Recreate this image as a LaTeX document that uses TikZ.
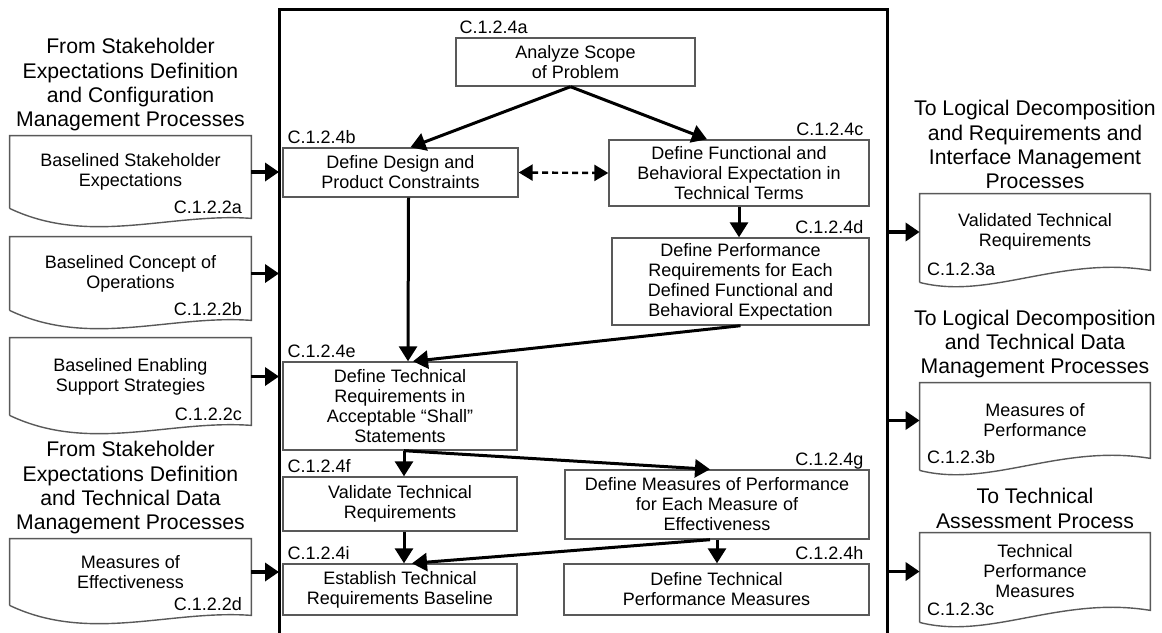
\documentclass[tikz,border=0pt]{standalone}
\usepackage{fontspec}
\setmainfont{Liberation Sans}
\usetikzlibrary{positioning,calc,arrows.meta}

% document outlines (wavy bottom)
\newcommand{\docIn}[1]{%
  \draw[docline] (#1.south west) -- (#1.north west) -- (#1.north east)
    -- ($(#1.south east)+(0,10)$) .. controls +(-81,-6) and +(80,38) .. (#1.south west);}
\newcommand{\docOut}[1]{%
  \draw[docline] ($(#1.south west)+(0,12)$) -- (#1.north west) -- (#1.north east)
    -- (#1.south east) .. controls +(-90,-15) and +(70,18) .. ($(#1.south west)+(0,12)$);}

\begin{document}
\begin{tikzpicture}[x=0.5pt, y=-0.5pt,
    proc/.style={rectangle, draw=black!65, line width=0.7pt, fill=white, align=center, inner sep=1pt, font=\fontsize{9}{10}\selectfont},
    doc/.style={rectangle, inner sep=1pt, align=center, minimum width=120.5pt, font=\fontsize{9}{10}\selectfont},
    code/.style={inner sep=0pt, font=\fontsize{9}{10}\selectfont},
    head/.style={align=center, inner sep=1pt, font=\fontsize{10.6}{12.2}\selectfont},
    docline/.style={draw=black!65, line width=0.7pt},
    arrow/.style={-{Triangle[length=7.5pt,width=9pt]}, line width=1.5pt},
    dasharrow/.style={{Triangle[length=7pt,width=8pt]}-{Triangle[length=7pt,width=8pt]}, line width=1.2pt, dash pattern=on 3pt off 2pt},
    ioarrow/.style={-{Triangle[length=7pt,width=9pt]}, line width=1.8pt},
    frame/.style={line width=1.5pt}
]
\useasboundingbox (0,0) rectangle (1162,632);

% Frame
\coordinate (fl) at (279,0);
\coordinate (fr) at (887,0);
\draw[frame] (279,640) -- (279,9) -- (887,9) -- (887,640);

% Process boxes
\node[proc, minimum width=119.5pt, minimum height=24pt] (a) at (575.5,62) {Analyze Scope\\of Problem};
\node[proc, minimum width=117.5pt, minimum height=24.5pt] (b) at (400.5,172.5) {Define Design and\\Product Constraints};
\node[proc, minimum width=130pt, minimum height=33pt] (c) at (739,173) {Define Functional and\\Behavioral Expectation in\\Technical Terms};
\node[proc, minimum width=128.5pt, minimum height=43.5pt] (d) at (740.5,281.5) {Define Performance\\Requirements for Each\\Defined Functional and\\Behavioral Expectation};
\node[proc, minimum width=117pt, minimum height=44pt] (e) at (400,406) {Define Technical\\Requirements in\\Acceptable “Shall”\\Statements};
\node[proc, minimum width=117pt, minimum height=27pt] (f) at (400,504) {Validate Technical\\Requirements};
\node[proc, minimum width=152pt, minimum height=34.5pt] (g) at (717,504.5) {Define Measures of Performance\\for Each Measure of\\Effectiveness};
\node[proc, minimum width=152.5pt, minimum height=25.5pt] (h) at (716.5,589.5) {Define Technical\\Performance Measures};
\node[proc, minimum width=117pt, minimum height=25.5pt] (i) at (400,589.5) {Establish Technical\\Requirements Baseline};

% Process labels
\node[code, anchor=base west] (al) at ($(a.north west)+(4,-4)$) {C.1.2.4a};
\node[code, anchor=base west] (bl) at ($(b.north west)+(5,-4)$) {C.1.2.4b};
\node[code, anchor=base east] (cl) at ($(c.north east)+(-6,-4)$) {C.1.2.4c};
\node[code, anchor=base east] (dl) at ($(d.north east)+(-6,-4)$) {C.1.2.4d};
\node[code, anchor=base west] (el) at ($(e.north west)+(5,-4)$) {C.1.2.4e};
\node[code, anchor=base west] (fl2) at ($(f.north west)+(5,-4)$) {C.1.2.4f};
\node[code, anchor=base east] (gl) at ($(g.north east)+(-6,-4)$) {C.1.2.4g};
\node[code, anchor=base east] (hl) at ($(h.north east)+(-6,-4)$) {C.1.2.4h};
\node[code, anchor=base west] (il) at ($(i.north west)+(5,-4)$) {C.1.2.4i};

% Inputs
\node[doc, minimum height=36pt] (D1) at (130.5,172) {Baselined Stakeholder\\Expectations};
\node[doc, minimum height=36.5pt] (D2) at (130.5,273.5) {Baselined Concept of\\Operations};
\node[doc, minimum height=38.5pt] (D3) at (130.5,376.5) {Baselined Enabling\\Support Strategies};
\node[doc, minimum height=33pt] (D4) at (130.5,572) {Measures of\\Effectiveness};
\docIn{D1} \docIn{D2} \docIn{D3} \docIn{D4}
\node[code, anchor=base east] (D1c) at ($(D1.south east)+(-9,5)$) {C.1.2.2a};
\node[code, anchor=base east] (D2c) at ($(D2.south east)+(-9,5)$) {C.1.2.2b};
\node[code, anchor=base east] (D3c) at ($(D3.south east)+(-9,5)$) {C.1.2.2c};
\node[code, anchor=base east] (D4c) at ($(D4.south east)+(-9,5)$) {C.1.2.2d};
\node[head, above=1pt of D1] (h1) {From Stakeholder\\Expectations Definition\\and Configuration\\Management Processes};
\node[head, above=1pt of D4] (h2) {From Stakeholder\\Expectations Definition\\and Technical Data\\Management Processes};

% Outputs
\node[doc, minimum width=115pt, minimum height=38pt] (R1) at (1035,232) {Validated Technical\\Requirements};
\node[doc, minimum width=115pt, minimum height=37.5pt] (R2) at (1035,420.5) {Measures of\\Performance};
\node[doc, minimum width=115pt, minimum height=38.5pt] (R3) at (1035,571.5) {Technical\\Performance\\Measures};
\docOut{R1} \docOut{R2} \docOut{R3}
\node[code, anchor=base west] (R1c) at ($(R1.south west)+(7,5)$) {C.1.2.3a};
\node[code, anchor=base west] (R2c) at ($(R2.south west)+(7,5)$) {C.1.2.3b};
\node[code, anchor=base west] (R3c) at ($(R3.south west)+(7,5)$) {C.1.2.3c};
\node[head, above=1pt of R1] (h3) {To Logical Decomposition\\and Requirements and\\Interface Management\\Processes};
\node[head, above=1pt of R2] (h4) {To Logical Decomposition\\and Technical Data\\Management Processes};
\node[head, above=1pt of R3] (h5) {To Technical\\Assessment Process};

% Arrows
\draw[arrow] ($(a.south)+(-5,0)$) -- ($(b.north)+(10,0)$);
\draw[arrow] ($(a.south)+(-5,0)$) -- ($(c.north)+(-32,0)$);
\draw[dasharrow] (b.east) -- (c.west);
\draw[arrow] (c.south) -- (c.south |- d.north);
\draw[arrow] ($(b.south)+(8,0)$) -- ($(e.north)+(8,0)$);
\draw[arrow] (d.south) -- ($(e.north)+(13,0)$);
\draw[arrow] ($(e.south)+(4,0)$) -- ($(f.north)+(4,0)$);
\draw[arrow] ($(e.south)+(4,0)$) -- ($(g.north)+(-7,0)$);
\draw[arrow] ($(f.south)+(4,0)$) -- ($(i.north)+(4,0)$);
\draw[arrow] (g.south) -- (g.south |- h.north);
\draw[arrow] ($(g.south)+(-7,0)$) -- ($(i.north)+(12,0)$);

% Inputs and outputs
\foreach \n in {D1,D2,D3,D4}
  \draw[ioarrow] (\n.east) -- (\n.east -| fl);
\foreach \n in {R1,R2,R3}
  \draw[ioarrow] (\n.west -| fr) -- (\n.west);

\end{tikzpicture}
\end{document}
